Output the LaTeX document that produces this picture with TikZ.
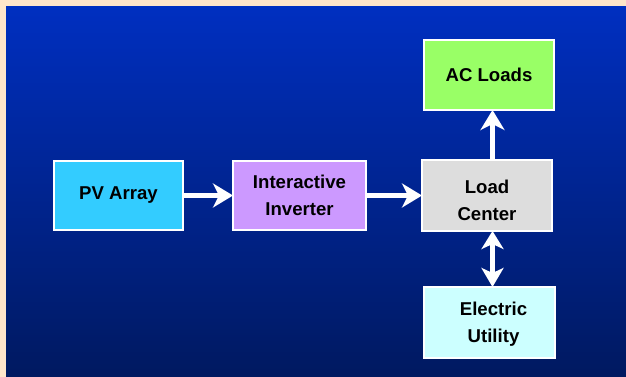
\documentclass[tikz,border=0pt]{standalone}
\usepackage{fontspec}
\setmainfont{Liberation Sans}
\usetikzlibrary{arrows.meta}
\definecolor{peach}{RGB}{255,230,202}
\definecolor{bgtop}{RGB}{0,47,192}
\definecolor{bgbot}{RGB}{0,25,96}
\definecolor{pvcol}{RGB}{51,204,255}
\definecolor{invcol}{RGB}{204,153,255}
\definecolor{loadcol}{RGB}{221,221,221}
\definecolor{accol}{RGB}{153,255,102}
\definecolor{utilcol}{RGB}{204,255,255}
\tikzset{
  blockbox/.style={draw=white, line width=2pt, inner sep=0pt, outer sep=0pt,
    align=center, font=\fontsize{18.6}{27.5}\selectfont\bfseries, text=black},
  arr/.style={draw=white, line width=4.4pt,
    -{Stealth[length=20pt,width=24pt,inset=6pt]}},
  darr/.style={draw=white, line width=4.4pt,
    {Stealth[length=18pt,width=22pt,inset=5pt]}-{Stealth[length=19pt,width=22pt,inset=5pt]}}
}
\begin{document}
\begin{tikzpicture}[x=1pt,y=1pt]
\useasboundingbox (0,0) rectangle (626,-377);
\fill[peach] (0,0) rectangle (626,-377);
\shade[top color=bgtop, bottom color=bgbot] (6,-7) rectangle (626,-377);
\node[blockbox, fill=pvcol, minimum width=129pt, minimum height=69pt] (pv) at (118.5,-195.5) {PV Array};
\node[blockbox, fill=invcol, minimum width=133pt, minimum height=69pt] (inv) at (299.5,-195.5) {Interactive\\Inverter};
\node[blockbox, fill=loadcol, minimum width=130pt, minimum height=71pt] (load) at (487,-195.5) {\rule{0pt}{23.5pt}Load\\Center};
\node[blockbox, fill=accol, minimum width=130pt, minimum height=70pt] (ac) at (489,-75) {AC Loads};
\node[blockbox, fill=utilcol, minimum width=131pt, minimum height=71pt] (util) at (489.5,-322.5) {\rule{0pt}{17pt}\hspace*{8pt}Electric\\\hspace*{8pt}Utility};
\coordinate (vx) at (492.5,0);
\draw[arr] (pv.east) -- (inv.west);
\draw[arr] (inv.east) -- (load.west);
\draw[arr] (load.north -| vx) -- (ac.south -| vx);
\draw[darr] (load.south -| vx) -- (util.north -| vx);
\end{tikzpicture}
\end{document}
